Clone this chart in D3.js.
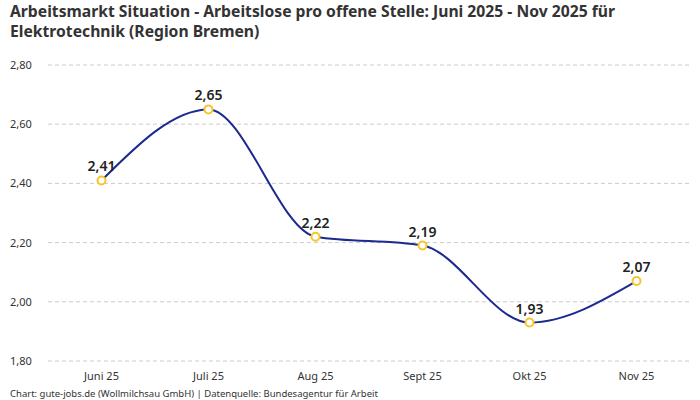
<!DOCTYPE html>
<html><head><meta charset="utf-8">
<script src="https://cdn.jsdelivr.net/npm/d3@7"></script>
<style>
body{margin:0;background:#fff;}
svg{display:block;font-family:"Noto Sans",sans-serif;}
</style></head>
<body><svg id="c" width="700" height="400"></svg>
<script>
const categories = ["Juni 25","Juli 25","Aug 25","Sept 25","Okt 25","Nov 25"];
const values = [2.41,2.65,2.22,2.19,1.93,2.07];
const yTicks = [1.8,2.0,2.2,2.4,2.6,2.8];
const titleLines = ["Arbeitsmarkt Situation - Arbeitslose pro offene Stelle: Juni 2025 - Nov 2025 für","Elektrotechnik (Region Bremen)"];
const footer = "Chart: gute-jobs.de (Wollmilchsau GmbH) | Datenquelle: Bundesagentur für Arbeit";

const svg = d3.select("#c");
const fmt = v => d3.format(".2f")(v).replace(".", ",");
const x = d3.scalePoint().domain(categories).range([48,690]).padding(0.5);
const y = d3.scaleLinear().domain([1.8,2.8]).range([361,65]);

svg.selectAll("text.title").data(titleLines).join("text")
  .attr("x",10).attr("y",(d,i)=>17+i*20)
  .attr("font-size",15.7).attr("font-weight","bold").attr("fill","#333")
  .text(d=>d);

svg.selectAll("line.grid").data(yTicks).join("line")
  .attr("x1",48).attr("x2",690).attr("y1",d=>y(d)).attr("y2",d=>y(d))
  .attr("stroke","#ccc").attr("stroke-dasharray","4,3").attr("stroke-width",1);

svg.selectAll("text.yt").data(yTicks).join("text")
  .attr("x",10).attr("y",d=>y(d)+4)
  .attr("font-size",11).attr("fill","#333").text(d=>fmt(d));

svg.selectAll("text.xt").data(categories).join("text")
  .attr("x",d=>x(d)).attr("y",380).attr("text-anchor","middle")
  .attr("font-size",11).attr("fill","#333").text(d=>d);

const line = d3.line().x((d,i)=>x(categories[i])).y(d=>y(d)).curve(d3.curveMonotoneX);
svg.append("path").datum(values).attr("d",line)
  .attr("fill","none").attr("stroke","#1b2a8f").attr("stroke-width",2);

svg.selectAll("circle.pt").data(values).join("circle")
  .attr("cx",(d,i)=>x(categories[i])).attr("cy",d=>y(d)).attr("r",4)
  .attr("fill","#fff").attr("stroke","#f7c52b").attr("stroke-width",2);

svg.selectAll("text.lbl").data(values).join("text")
  .attr("x",(d,i)=>x(categories[i])).attr("y",d=>y(d)-9).attr("text-anchor","middle")
  .attr("font-size",14).attr("font-weight",600).attr("fill","#222").text(d=>fmt(d));

svg.append("text").attr("x",10).attr("y",397).attr("font-size",9.5).attr("fill","#333").text(footer);
</script></body></html>
